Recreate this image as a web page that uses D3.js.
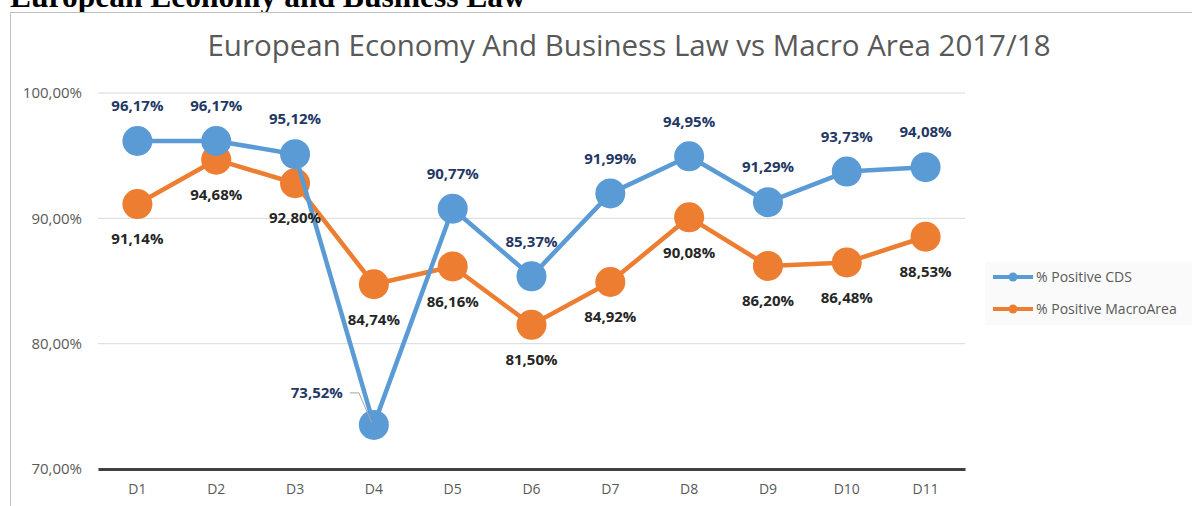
<!DOCTYPE html>
<html>
<head>
<meta charset="utf-8">
<script src="https://cdnjs.cloudflare.com/ajax/libs/d3/7.8.5/d3.min.js"></script>
<style>
  html, body { margin: 0; padding: 0; background: #fff; overflow: hidden; }
  svg { display: block; }
</style>
</head>
<body>
<svg id="chart" width="1192" height="506"></svg>
<script>
const categories = ["D1", "D2", "D3", "D4", "D5", "D6", "D7", "D8", "D9", "D10", "D11"];
const cdsValues = [96.17, 96.17, 95.12, 73.52, 90.77, 85.37, 91.99, 94.95, 91.29, 93.73, 94.08];
const macroValues = [91.14, 94.68, 92.80, 84.74, 86.16, 81.50, 84.92, 90.08, 86.20, 86.48, 88.53];
const yTicks = [70, 80, 90, 100];
const seriesNames = ["% Positive CDS", "% Positive MacroArea"];

const blue = "#5B9BD5";
const orange = "#ED7D31";
const fmt = v => d3.format(".2f")(v).replace(".", ",") + "%";

const svg = d3.select("#chart");

// page heading, partly cut off at the top (as in the source page)
svg.append("text")
    .attr("x", 10)
    .attr("y", 7)
    .attr("font-family", "Liberation Serif, serif")
    .attr("font-weight", "bold")
    .attr("font-size", 31.5)
    .attr("fill", "#000")
    .text("European Economy and Business Law");

// chart frame
svg.append("rect")
    .attr("x", 10.5).attr("y", 12.5)
    .attr("width", 1200).attr("height", 520)
    .attr("fill", "#fff")
    .attr("stroke", "#bfbfbf");

svg.append("text")
    .attr("x", 629)
    .attr("y", 56)
    .attr("text-anchor", "middle")
    .attr("font-family", "Open Sans, sans-serif")
    .attr("font-size", 29.5)
    .attr("fill", "#595959")
    .text("European Economy And Business Law vs Macro Area 2017/18");

const x = d3.scaleBand().domain(categories).range([98, 965]);
const y = d3.scaleLinear().domain([70, 100]).range([469, 93]);
const cx = d => x(d) + x.bandwidth() / 2;

// gridlines
svg.append("g")
    .selectAll("line")
    .data(yTicks.slice(1))
    .join("line")
    .attr("x1", 98).attr("x2", 965)
    .attr("y1", d => y(d)).attr("y2", d => y(d))
    .attr("stroke", "#d9d9d9")
    .attr("stroke-width", 1);

// y axis labels
const yAxis = svg.append("g")
    .attr("transform", "translate(82,0)")
    .call(d3.axisLeft(y).tickValues(yTicks).tickFormat(fmt).tickSize(0).tickPadding(0));
yAxis.select(".domain").remove();
yAxis.selectAll("text")
    .attr("font-family", "Open Sans, sans-serif")
    .attr("font-size", 15)
    .attr("fill", "#595959");

// x axis
const xAxis = svg.append("g")
    .attr("transform", "translate(0,469)")
    .call(d3.axisBottom(x).tickSize(0).tickPadding(15));
xAxis.select(".domain")
    .attr("stroke", "#404040")
    .attr("stroke-width", 3);
xAxis.selectAll("text")
    .attr("font-family", "Open Sans, sans-serif")
    .attr("font-size", 14)
    .attr("fill", "#595959");

const line = d3.line().x((d, i) => cx(categories[i])).y(d => y(d));

function drawSeries(values, color) {
    svg.append("path")
        .datum(values)
        .attr("d", line)
        .attr("fill", "none")
        .attr("stroke", color)
        .attr("stroke-width", 4.5)
        .attr("stroke-linejoin", "round");
    svg.append("g")
        .selectAll("circle")
        .data(values)
        .join("circle")
        .attr("cx", (d, i) => cx(categories[i]))
        .attr("cy", d => y(d))
        .attr("r", 15)
        .attr("fill", color);
}

drawSeries(macroValues, orange);
drawSeries(cdsValues, blue);

// data labels
const labelFont = { family: "Open Sans, sans-serif", size: 15 };

svg.append("g")
    .selectAll("text")
    .data(macroValues)
    .join("text")
    .attr("x", (d, i) => cx(categories[i]))
    .attr("y", d => y(d) + 35)
    .attr("dy", "0.35em")
    .attr("text-anchor", "middle")
    .attr("font-family", labelFont.family)
    .attr("font-size", labelFont.size)
    .attr("font-weight", "bold")
    .attr("fill", "#262626")
    .text(fmt);

svg.append("g")
    .selectAll("text")
    .data(cdsValues)
    .join("text")
    .attr("x", (d, i) => i === 3 ? cx(categories[i]) - 31 : cx(categories[i]))
    .attr("y", (d, i) => i === 3 ? y(d) - 32 : y(d) - 35)
    .attr("dy", "0.35em")
    .attr("text-anchor", (d, i) => i === 3 ? "end" : "middle")
    .attr("font-family", labelFont.family)
    .attr("font-size", labelFont.size)
    .attr("font-weight", "bold")
    .attr("fill", "#1F3864")
    .text(fmt);

// leader line for the D4 label
const d4x = cx(categories[3]), d4y = y(cdsValues[3]);
svg.append("polyline")
    .attr("points", `${d4x - 24},${d4y - 32} ${d4x - 15},${d4y - 32} ${d4x - 2},${d4y - 2}`)
    .attr("fill", "none")
    .attr("stroke", "#a6a6a6")
    .attr("stroke-width", 1);

// legend
const legend = svg.append("g");
legend.append("rect")
    .attr("x", 985).attr("y", 262)
    .attr("width", 207).attr("height", 63)
    .attr("fill", "#fafafa");
const items = legend.selectAll("g")
    .data(seriesNames)
    .join("g")
    .attr("transform", (d, i) => `translate(0,${277 + i * 32})`);
items.append("line")
    .attr("x1", 993).attr("x2", 1033)
    .attr("stroke", (d, i) => i === 0 ? blue : orange)
    .attr("stroke-width", 4);
items.append("circle")
    .attr("cx", 1013).attr("r", 4.5)
    .attr("fill", (d, i) => i === 0 ? blue : orange);
items.append("text")
    .attr("x", 1036)
    .attr("dy", "0.35em")
    .attr("font-family", "Open Sans, sans-serif")
    .attr("font-size", 14)
    .attr("fill", "#595959")
    .text(d => d);
</script>
</body>
</html>
